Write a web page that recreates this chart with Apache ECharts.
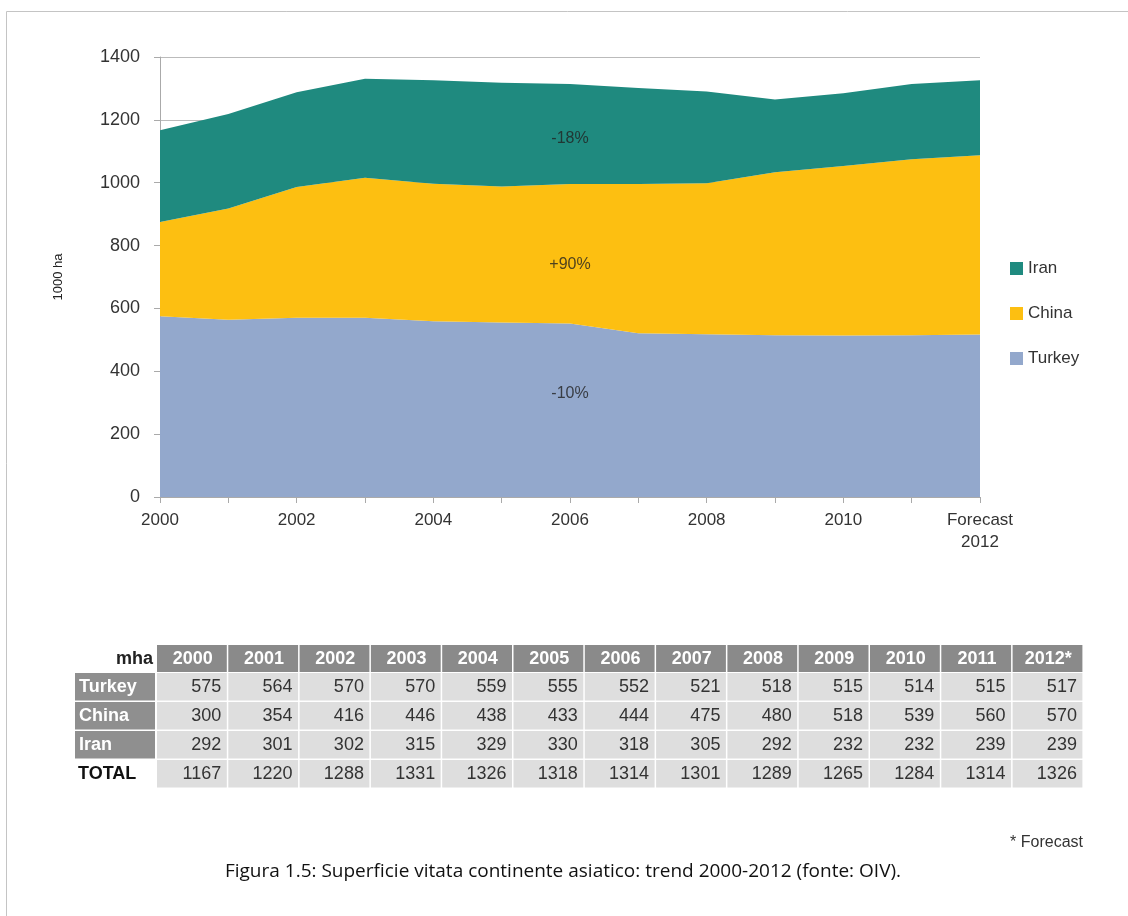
<!DOCTYPE html>
<html>
<head>
<meta charset="utf-8">
<script src="https://cdn.jsdelivr.net/npm/echarts@6/dist/echarts.min.js"></script>
<style>
  html, body { margin: 0; padding: 0; background: #fff; }
  #main { width: 1128px; height: 916px; }
</style>
</head>
<body>
<div id="main"></div>
<script>
// dati (1000 ha)
const years = ['2000','2001','2002','2003','2004','2005','2006','2007','2008','2009','2010','2011','2012'];
const tableHead = ['2000','2001','2002','2003','2004','2005','2006','2007','2008','2009','2010','2011','2012*'];
const turkey = [575, 564, 570, 570, 559, 555, 552, 521, 518, 515, 514, 515, 517];
const china = [300, 354, 416, 446, 438, 433, 444, 475, 480, 518, 539, 560, 570];
const iran = [292, 301, 302, 315, 329, 330, 318, 305, 292, 232, 232, 239, 239];
const total = [1167, 1220, 1288, 1331, 1326, 1318, 1314, 1301, 1289, 1265, 1284, 1314, 1326];
const rowNames = ['Turkey', 'China', 'Iran'];
const notes = [['-18%', 6, 1140], ['+90%', 6, 740], ['-10%', 6, 330]];

const FONT = '"Liberation Sans", Arial, sans-serif';
const colors = { Turkey: '#93a8cc', China: '#fdbf11', Iran: '#1f8a7f' };

let chart = echarts.init(document.getElementById('main'));

// tabella sotto il grafico
let table = [];
let colX0 = 157, colW = 71.3, headY = 645, headH = 27, rowH = 29;
table.push({ type: 'text', style: {
  x: 153, y: headY + headH / 2 + 1, text: 'mha', align: 'right', verticalAlign: 'middle',
  font: 'bold 18px ' + FONT, fill: '#222' } });
tableHead.forEach((h, i) => {
  let x = colX0 + i * colW;
  table.push({ type: 'rect', shape: { x: x, y: headY, width: colW - 1.5, height: headH }, style: { fill: '#8a8a8a' } });
  table.push({ type: 'text', style: { x: x + colW / 2, y: headY + headH / 2 + 1, text: h,
    align: 'center', verticalAlign: 'middle', font: 'bold 18px ' + FONT, fill: '#fff' } });
});
let rows = [turkey, china, iran, total];
rows.forEach((r, j) => {
  let y = headY + headH + 1 + j * rowH;
  if (j < 3) {
    table.push({ type: 'rect', shape: { x: 75, y: y, width: 80, height: rowH - 1.5 }, style: { fill: '#8f8f8f' } });
    table.push({ type: 'text', style: { x: 79, y: y + rowH / 2, text: rowNames[j],
      verticalAlign: 'middle', font: 'bold 18px ' + FONT, fill: '#fff' } });
  } else {
    table.push({ type: 'text', style: { x: 78, y: y + rowH / 2, text: 'TOTAL',
      verticalAlign: 'middle', font: 'bold 18px ' + FONT, fill: '#111' } });
  }
  r.forEach((v, i) => {
    let x = colX0 + i * colW;
    table.push({ type: 'rect', shape: { x: x, y: y, width: colW - 1.5, height: rowH - 1.5 }, style: { fill: '#dedede' } });
    table.push({ type: 'text', style: { x: x + colW - 7, y: y + rowH / 2, text: String(v),
      align: 'right', verticalAlign: 'middle', font: '18px ' + FONT, fill: '#333' } });
  });
});

let option = {
  animation: false,
  backgroundColor: '#fff',
  textStyle: { fontFamily: FONT },
  grid: { left: 160, right: 148, top: 57, bottom: 419 },
  legend: {
    orient: 'vertical', left: 1005, top: 255, itemGap: 28,
    itemWidth: 13, itemHeight: 13, icon: 'rect',
    data: ['Iran', 'China', 'Turkey'],
    textStyle: { fontSize: 17, color: '#333', fontFamily: FONT }
  },
  xAxis: {
    type: 'category', data: years, boundaryGap: false,
    axisLine: { lineStyle: { color: '#aaa' } },
    axisTick: { show: true, interval: 0, length: 6, lineStyle: { color: '#aaa' } },
    axisLabel: {
      interval: 1, margin: 12, fontSize: 17, color: '#333', lineHeight: 22,
      formatter: (v, i) => i === years.length - 1 ? 'Forecast\n' + v : v
    }
  },
  yAxis: {
    type: 'value', min: 0, max: 1400, interval: 200,
    name: '1000 ha', nameLocation: 'middle', nameGap: 95, nameRotate: 90,
    nameTextStyle: { fontSize: 13, color: '#222' },
    axisLine: { show: true, lineStyle: { color: '#aaa' } },
    axisTick: { show: true, length: 6, lineStyle: { color: '#aaa' } },
    axisLabel: { margin: 20, fontSize: 18, color: '#333', formatter: v => String(v) },
    splitLine: { lineStyle: { color: '#bbb' } }
  },
  series: [
    { name: 'Turkey', data: turkey },
    { name: 'China', data: china },
    { name: 'Iran', data: iran }
  ].map(s => ({
    name: s.name, type: 'line', stack: 'tot', data: s.data,
    symbol: 'none', lineStyle: { width: 0 },
    itemStyle: { color: colors[s.name] },
    areaStyle: { color: colors[s.name], opacity: 1 },
    z: 2
  })).concat([{
    type: 'scatter', data: notes.map(n => [n[1], n[2]]),
    symbolSize: 0, silent: true, z: 5,
    label: { show: true, position: 'inside', fontSize: 16, color: '#222',
      formatter: p => notes[p.dataIndex][0] }
  }]),
  graphic: [
    { type: 'line', shape: { x1: 6.5, y1: 11.5, x2: 1128, y2: 11.5 }, style: { stroke: '#c4c4c4', lineWidth: 1 } },
    { type: 'line', shape: { x1: 6.5, y1: 11.5, x2: 6.5, y2: 916 }, style: { stroke: '#c4c4c4', lineWidth: 1 } },
    { type: 'group', children: table },
    { type: 'text', style: { x: 1083, y: 843, text: '* Forecast', align: 'right', verticalAlign: 'middle',
      font: '16px ' + FONT, fill: '#333' } },
    { type: 'text', style: { x: 563, y: 872, text: 'Figura 1.5: Superficie vitata continente asiatico: trend 2000-2012 (fonte: OIV).',
      align: 'center', verticalAlign: 'middle', font: '19px "Open Sans", "Noto Sans", sans-serif', fill: '#111' } }
  ]
};
chart.setOption(option);
</script>
</body>
</html>
